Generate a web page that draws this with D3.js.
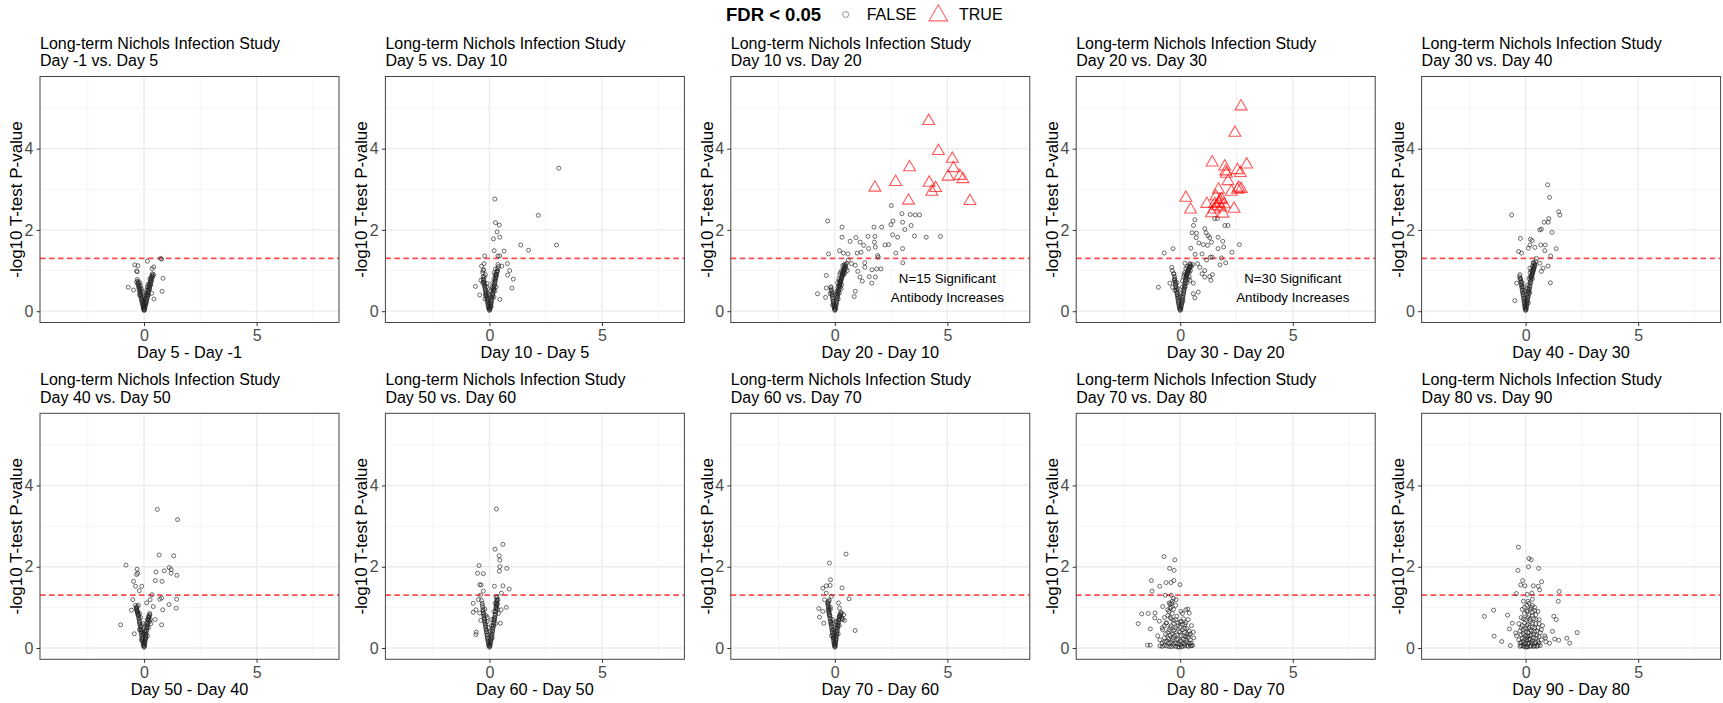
<!DOCTYPE html>
<html>
<head>
<meta charset="utf-8">
<script src="https://cdn.jsdelivr.net/npm/d3@7"></script>
<style>
body { margin: 0; background: #fff; }
svg { font-family: "Liberation Sans", Arial, sans-serif; }
</style>
</head>
<body>
<svg width="1723" height="703"></svg>
<script>
// **** data ****

var studyTitle = "Long-term Nichols Infection Study";
var comparisons = ["Day -1 vs. Day 5", "Day 5 vs. Day 10", "Day 10 vs. Day 20", "Day 20 vs. Day 30", "Day 30 vs. Day 40",
    "Day 40 vs. Day 50", "Day 50 vs. Day 60", "Day 60 vs. Day 70", "Day 70 vs. Day 80", "Day 80 vs. Day 90"];
var xLabels = ["Day 5 - Day -1", "Day 10 - Day 5", "Day 20 - Day 10", "Day 30 - Day 20", "Day 40 - Day 30",
    "Day 50 - Day 40", "Day 60 - Day 50", "Day 70 - Day 60", "Day 80 - Day 70", "Day 90 - Day 80"];
var yLabel = "-log10 T-test P-value";
var xTicks = [0, 5];
var yTicks = [0, 2, 4];
var xMinor = [-2.5, 2.5, 7.5];
var yMinor = [1, 3, 5];
var cutoff = 1.301;
var legendTitle = "FDR < 0.05";
var legendLabels = ["FALSE", "TRUE"];
// significant-count notes, [panel index, count]
var notes = [[2, 15], [3, 30]];
var noteX = 5, noteY = 0.7;

// FDR < 0.05 == FALSE, [mean difference, -log10 p]
var p1 = [[0.74,1.30],[0.78,1.28],[0.15,1.23],[-0.41,1.14],[-0.27,1.12],[-0.33,0.99],[-0.30,0.97],[0.36,1.05],[0.43,1.09],[0.84,0.81],
    [-0.70,0.59],[0.80,0.49],[0.44,0.30],[0.34,0.44],[-0.47,0.52],[-0.33,0.72],
    [0,0.02],[0.01,0.04],[-0.01,0.06],[0.02,0.09],[-0.03,0.11],[0.04,0.13],[-0.04,0.16],[0.05,0.18],[-0.06,0.2],[0.07,0.23],
    [-0.07,0.25],[0.09,0.27],[-0.09,0.3],[0.1,0.32],[-0.11,0.35],[0.12,0.37],[-0.13,0.4],[0.14,0.42],[-0.15,0.45],[0.16,0.47],
    [-0.17,0.5],[0.18,0.52],[-0.19,0.55],[0.2,0.57],[-0.21,0.6],[0.22,0.62],[-0.23,0.65],[0.24,0.67],[-0.25,0.7],[0.27,0.72],
    [-0.27,0.74],[0.29,0.76],[0.31,0.8],[0.33,0.84],[0.35,0.88],[0.37,0.92],[-0.3,0.78],[0.05,0.3],[-0.02,0.25],[0.1,0.45],
    [0,0.15],[-0.1,0.5],[0.15,0.6],[-0.15,0.62],[0.2,0.4],[-0.05,0.38],[0.12,0.52],[0.25,0.55],[-0.2,0.4],[0.3,0.65]];
var core1 = [[0.02,0.03],[-0.02,0.05],[0.03,0.07],[-0.04,0.1],[0.06,0.12],[-0.05,0.14],[0.08,0.17],[-0.08,0.19],[0.1,0.21],[-0.1,0.24],
    [0.12,0.26],[-0.12,0.29],[0.14,0.31],[-0.14,0.34],[0.16,0.36],[-0.16,0.39],[0.18,0.41],[-0.18,0.44],[0.2,0.46],[-0.2,0.49],
    [0.22,0.51],[-0.22,0.54],[0.24,0.56],[-0.24,0.59],[0.26,0.61],[-0.26,0.64],[0.28,0.66],[0.3,0.7],[0.32,0.74],[0.34,0.78],
    [0.36,0.83],[0.4,0.87],[0.42,0.9],[-0.28,0.68],[-0.12,0.55],[0.08,0.4],[0.18,0.66],[-0.18,0.7],[0.26,0.8],[0.05,0.22]];
var p2 = [[3.08,3.52],[0.24,2.76],[2.17,2.36],[2.98,1.63],[1.39,1.63],[1.74,1.50],[0.27,2.18],[0.44,2.12],[0.34,1.95],[0.18,1.78],
    [0.46,1.82],[0.21,1.49],[0.65,1.48],[-0.21,1.36],[0.38,1.36],[0.46,1.36],[-0.24,1.17],[-0.35,1.11],[-0.28,1.00],[0.80,1.17],
    [0.90,1.00],[0.81,0.89],[1.06,0.79],[1.00,0.57],[0.55,1.11],[-0.62,0.61],[-0.43,0.40],[0.46,0.29],[0.27,1.04],[-0.18,0.90],[-0.38,0.76],
    [0,0.02],[0.01,0.05],[-0.02,0.08],[0.03,0.1],[-0.04,0.13],[0.05,0.16],[-0.06,0.19],[0.07,0.22],[-0.08,0.25],[0.09,0.28],
    [-0.1,0.31],[0.11,0.34],[-0.12,0.37],[0.13,0.4],[-0.14,0.43],[0.15,0.46],[-0.16,0.49],[0.17,0.52],[-0.18,0.55],[0.19,0.58],
    [-0.2,0.61],[0.21,0.64],[-0.22,0.67],[0.23,0.7],[-0.24,0.73],[0.25,0.76],[-0.26,0.79],[0.27,0.82],[-0.28,0.85],[0.29,0.88],
    [0.31,0.92],[0.33,0.96],[0.35,1.0],[0.37,1.05],[0.4,1.1],[-0.3,0.95],[-0.25,1.02],[0.05,0.35],[-0.05,0.3],[0.1,0.55],
    [-0.12,0.6],[0.2,0.8],[0.15,0.7],[0,0.2],[-0.18,0.4],[0.25,0.5],[0.3,0.6],[0.08,0.12],[-0.08,0.45],[0.22,0.95]];
var core2 = [[0.02,0.04],[-0.03,0.06],[0.04,0.08],[-0.05,0.11],[0.06,0.14],[-0.07,0.17],[0.08,0.2],[-0.09,0.23],[0.1,0.26],[-0.11,0.29],
    [0.12,0.32],[-0.13,0.35],[0.14,0.38],[-0.15,0.41],[0.16,0.44],[-0.17,0.47],[0.18,0.5],[-0.19,0.53],[0.2,0.56],[-0.21,0.59],
    [0.22,0.62],[-0.23,0.65],[0.24,0.68],[-0.25,0.71],[0.26,0.74],[-0.27,0.77],[0.28,0.8],[0.3,0.85],[0.32,0.9],[0.36,0.98],
    [-0.2,0.3],[0.12,0.6],[-0.1,0.68],[0.2,0.35],[0.05,0.5],[-0.03,0.4],[0.25,0.9],[-0.22,0.85],[0.38,1.15],[-0.3,0.7]];
var p3 = [[-0.32,2.22],[0.32,2.07],[2.51,2.60],[2.98,2.40],[3.35,2.38],[3.57,2.37],[3.76,2.37],[2.58,2.22],[2.49,2.13],[3.01,2.19],
    [1.74,2.07],[2.08,2.07],[3.39,2.11],[3.11,2.01],[2.57,1.88],[2.79,1.82],[3.54,1.85],[4.06,1.82],[4.69,1.84],[0.32,1.82],
    [0.94,1.81],[0.68,1.72],[1.12,1.70],[1.47,1.84],[1.78,1.84],[1.76,1.70],[2.23,1.63],[2.39,1.64],[3.01,1.54],[1.50,1.54],
    [1.80,1.58],[2.71,1.43],[3.02,1.19],[-0.28,1.41],[0.21,1.49],[0.38,1.43],[0.58,1.41],[0.99,1.43],[1.28,1.62],[1.17,1.45],
    [1.90,1.37],[1.93,1.33],[2.05,1.04],[1.86,1.04],[1.65,1.02],[1.33,1.19],[1.33,1.08],[1.53,0.85],[1.80,0.84],[1.64,0.69],
    [1.12,0.84],[1.02,0.98],[0.91,1.13],[0.60,1.26],[0.74,1.17],[1.22,0.74],[0.91,0.49],[0.86,0.36],[-0.38,0.88],[-0.77,0.43],
    [-0.38,0.57],[-0.21,0.43],[-0.41,0.34],
    [0,0.02],[0.01,0.05],[-0.02,0.08],[0.03,0.11],[-0.03,0.14],[0.05,0.17],[-0.05,0.2],[0.07,0.23],[-0.07,0.26],[0.09,0.3],
    [-0.09,0.33],[0.11,0.36],[-0.11,0.4],[0.13,0.43],[-0.13,0.46],[0.15,0.5],[-0.15,0.53],[0.17,0.56],[-0.17,0.6],[0.19,0.63],
    [0.21,0.67],[0.23,0.7],[0.25,0.74],[0.27,0.78],[0.29,0.82],[0.31,0.86],[0.33,0.9],[0.35,0.94],[0.37,0.98],[0.39,1.02],
    [0.41,1.06],[0.44,1.1],[0.47,1.15],[0.3,1.0],[0.22,0.9],[0.25,0.6],[0.1,0.5],[0.05,0.4],[0.18,0.8],[0.35,1.12],
    [0.12,0.7],[0.4,0.9],[0.15,0.3],[-0.1,0.15],[0.2,0.45],[0.5,1.05],[0.28,0.55],[0.45,0.95]];
var core3 = [[0.02,0.04],[-0.02,0.06],[0.04,0.09],[-0.04,0.12],[0.06,0.15],[-0.06,0.18],[0.08,0.21],[-0.08,0.24],[0.1,0.27],[-0.1,0.31],
    [0.12,0.34],[-0.12,0.38],[0.14,0.41],[-0.14,0.44],[0.16,0.48],[-0.16,0.51],[0.18,0.54],[0.2,0.6],[0.22,0.65],[0.24,0.68],
    [0.26,0.72],[0.28,0.76],[0.3,0.8],[0.32,0.84],[0.34,0.88],[0.36,0.92],[0.38,0.96],[0.4,1.0],[0.42,1.04],[0.45,1.08],
    [0.48,1.12],[0.52,1.18],[-0.18,0.58],[0.08,0.45],[0.14,0.6],[0.3,0.65],[0.2,0.75],[0.42,1.15],[0.55,1.0],[0.25,0.95]];
var p4 = [[-0.97,0.59],[-0.71,1.43],[-0.32,1.54],[0.65,2.25],[0.59,2.11],[0.53,1.93],[0.72,1.92],[0.71,1.81],[1.09,2.03],[1.15,1.93],
    [1.24,1.86],[1.31,1.81],[1.39,1.70],[1.21,1.62],[1.03,1.64],[0.83,1.68],[0.47,1.55],[0.66,1.40],[0.97,1.41],[1.68,1.82],
    [1.89,1.72],[1.93,1.58],[1.68,1.54],[2.30,1.45],[2.63,1.64],[1.53,2.28],[1.65,2.28],[1.98,2.11],[2.12,2.11],[1.42,1.33],
    [1.83,1.31],[2.02,1.19],[1.77,1.14],[1.34,1.33],[1.17,1.26],[1.43,0.90],[1.31,0.85],[1.36,0.76],[1.09,1.00],[0.80,0.47],
    [0.58,0.43],[0.65,0.33],[0.21,1.18],[0.43,1.17],[0.77,1.17],[0.87,1.08],[0.97,0.92],[1.09,0.84],[0.28,0.88],[0.43,0.76],
    [0.58,0.69],[-0.38,1.08],[-0.35,1.00],[-0.29,0.92],[-0.46,0.69],[-0.34,0.59],[-0.24,0.51],[-0.27,0.76],
    [0,0.02],[0.01,0.05],[-0.02,0.08],[0.03,0.11],[-0.04,0.14],[0.05,0.17],[-0.06,0.2],[0.07,0.23],[-0.08,0.26],[0.09,0.3],
    [-0.1,0.33],[0.11,0.36],[-0.12,0.4],[0.13,0.43],[-0.14,0.46],[0.15,0.5],[-0.16,0.53],[0.17,0.56],[-0.18,0.6],[0.19,0.63],
    [-0.2,0.66],[0.21,0.7],[-0.22,0.73],[0.23,0.76],[-0.24,0.8],[0.25,0.83],[-0.26,0.86],[0.28,0.9],[0.3,0.94],[0.32,0.98],
    [0.35,1.02],[0.38,1.06],[0.41,1.1],[0.44,1.15],[0.2,0.95],[0.1,0.6],[0.05,0.45],[0.3,0.7],[-0.1,0.55],[0.15,0.85],
    [0.25,1.05],[0.35,0.8],[0.4,0.95],[0.12,0.25],[-0.05,0.35],[0.45,1.0],[0.5,1.1],[0.22,0.6]];
var core4 = [[0.02,0.04],[-0.03,0.06],[0.04,0.09],[-0.05,0.12],[0.06,0.15],[-0.07,0.18],[0.08,0.21],[-0.09,0.24],[0.1,0.28],[-0.11,0.31],
    [0.12,0.34],[-0.13,0.38],[0.14,0.41],[-0.15,0.44],[0.16,0.48],[-0.17,0.51],[0.18,0.54],[-0.19,0.58],[0.2,0.61],[-0.21,0.64],
    [0.22,0.68],[-0.23,0.71],[0.24,0.74],[-0.25,0.78],[0.26,0.81],[0.27,0.85],[0.29,0.88],[0.31,0.92],[0.34,0.96],[0.37,1.0],
    [0.4,1.04],[0.43,1.08],[0.46,1.12],[-0.28,0.92],[0.1,0.75],[0.3,1.1],[0.18,0.9],[0.4,0.85],[-0.15,0.7],[0.55,1.15]];
var p5 = [[0.98,3.11],[1.06,2.80],[-0.62,2.37],[1.47,2.45],[1.52,2.37],[1.03,2.28],[1.00,2.19],[0.82,2.19],[1.17,1.94],[0.63,2.00],
    [0.70,2.02],[0.21,1.77],[0.29,1.74],[0.41,1.57],[0.19,1.63],[0.67,1.63],[0.87,1.63],[0.85,1.49],[1.36,1.54],[0.12,1.55],
    [-0.23,1.79],[-0.31,1.47],[-0.18,1.43],[1.11,1.36],[1.00,1.11],[0.70,0.98],[1.10,0.70],[-0.48,0.26],[-0.40,0.69],[-0.25,0.81],
    [0.48,1.30],[0.63,1.18],[0.78,1.06],[0.34,1.18],[0.19,1.06],
    [0,0.02],[0.01,0.05],[-0.02,0.08],[0.03,0.11],[-0.03,0.14],[0.04,0.17],[-0.05,0.2],[0.06,0.23],[-0.06,0.26],[0.08,0.3],
    [-0.08,0.33],[0.1,0.36],[-0.1,0.4],[0.12,0.43],[-0.12,0.46],[0.14,0.5],[-0.14,0.53],[0.16,0.56],[-0.16,0.6],[0.18,0.63],
    [-0.18,0.66],[0.2,0.7],[-0.2,0.73],[0.22,0.76],[-0.22,0.8],[0.24,0.83],[0.26,0.87],[0.28,0.91],[0.3,0.95],[0.32,0.99],
    [0.34,1.03],[0.36,1.07],[0.38,1.12],[0.4,1.17],[0.05,0.4],[-0.05,0.5],[0.1,0.65],[0.15,0.8],[0.2,0.95],[0.25,1.0],
    [-0.15,0.7],[0.12,0.2],[0.3,0.8],[0,0.3],[0.08,0.55],[-0.25,0.9],[0.35,1.2],[0.18,0.45]];
var core5 = [[0.02,0.04],[-0.02,0.06],[0.03,0.09],[-0.04,0.12],[0.05,0.15],[-0.05,0.18],[0.07,0.21],[-0.07,0.24],[0.09,0.28],[-0.09,0.31],
    [0.11,0.34],[-0.11,0.38],[0.13,0.41],[-0.13,0.44],[0.15,0.48],[-0.15,0.51],[0.17,0.54],[-0.17,0.58],[0.19,0.61],[-0.19,0.64],
    [0.21,0.68],[-0.21,0.71],[0.23,0.74],[-0.23,0.78],[0.25,0.81],[0.27,0.85],[0.29,0.89],[0.31,0.93],[0.33,0.97],[0.35,1.01],
    [0.37,1.05],[0.39,1.1],[0.42,1.14],[-0.27,0.85],[0.1,0.5],[0.2,0.85],[-0.1,0.6],[0.3,1.1],[0.45,1.22],[0.05,0.25]];
var p6 = [[0.59,3.41],[1.49,3.16],[0.67,2.29],[1.32,2.27],[-0.80,2.04],[-0.31,1.94],[-0.28,1.84],[-0.33,1.81],[1.12,1.98],[1.21,1.93],
    [0.90,1.90],[1.46,1.79],[0.53,1.87],[-0.47,1.64],[-0.38,1.52],[0.50,1.66],[0.80,1.64],[1.20,1.84],[-0.21,1.41],[-0.50,1.19],
    [0.36,1.31],[0.27,1.19],[0.70,1.20],[0.78,1.23],[1.11,1.07],[0.83,0.94],[1.45,1.20],[1.43,0.98],[0.78,0.57],[0.49,0.70],
    [-1.04,0.57],[-0.43,0.35],[-0.56,0.93],[-0.10,1.52],[0.12,1.11],[0.41,1.02],
    [0,0.02],[0.01,0.05],[-0.02,0.08],[0.02,0.11],[-0.04,0.14],[0.04,0.17],[-0.06,0.2],[0.05,0.23],[-0.08,0.26],[0.07,0.3],
    [-0.1,0.33],[0.08,0.36],[-0.12,0.4],[0.1,0.43],[-0.14,0.46],[0.12,0.5],[-0.16,0.53],[0.14,0.56],[-0.18,0.6],[0.16,0.63],
    [-0.2,0.66],[0.18,0.7],[-0.22,0.73],[0.2,0.76],[-0.24,0.8],[0.22,0.8],[-0.26,0.84],[0.25,0.85],[-0.28,0.88],[-0.3,0.92],
    [-0.32,0.96],[-0.34,1.0],[0.05,0.4],[-0.05,0.35],[0.1,0.6],[-0.1,0.55],[0.15,0.3],[-0.15,0.75],[0,0.15],[0.2,0.5],
    [-0.2,0.45],[0.28,0.7],[0.3,0.6],[-0.25,1.05],[0.08,0.25],[-0.12,0.2]];
var core6 = [[0.02,0.04],[-0.03,0.06],[0.03,0.09],[-0.05,0.12],[0.05,0.15],[-0.07,0.18],[0.06,0.21],[-0.09,0.24],[0.08,0.28],[-0.11,0.31],
    [0.09,0.34],[-0.13,0.38],[0.11,0.41],[-0.15,0.44],[0.13,0.48],[-0.17,0.51],[0.15,0.54],[-0.19,0.58],[0.17,0.61],[-0.21,0.64],
    [0.19,0.68],[-0.23,0.71],[0.21,0.74],[-0.25,0.78],[0.23,0.77],[-0.27,0.82],[-0.29,0.86],[-0.31,0.9],[-0.33,0.94],[-0.35,0.98],
    [-0.3,1.02],[0.26,0.82],[-0.1,0.45],[0.1,0.5],[0,0.35],[-0.2,0.85],[0.25,0.65],[-0.05,0.6],[0.15,0.7],[-0.38,1.05]];
var p7 = [[0.31,3.42],[0.60,2.55],[0.25,2.43],[0.43,2.27],[0.46,2.16],[0.46,2.00],[0.44,1.89],[0.77,1.96],[-0.46,2.03],[-0.53,1.84],
    [-0.27,1.83],[-0.43,1.56],[-0.37,1.55],[-0.27,1.40],[-0.40,1.30],[-0.49,1.19],[-0.35,1.17],[-0.72,1.10],[-0.72,0.88],[-0.60,0.94],
    [-0.43,0.86],[-0.38,0.68],[-0.60,0.33],[-0.58,0.39],[0.22,1.52],[0.60,1.53],[0.88,1.45],[0.75,1.00],[0.53,1.35],[0.38,1.19],
    [0.52,0.94],[0.49,0.61],
    [0,0.02],[0.01,0.05],[-0.02,0.08],[0.03,0.11],[-0.04,0.14],[0.05,0.17],[-0.06,0.2],[0.07,0.23],[-0.08,0.26],[0.09,0.3],
    [-0.1,0.33],[0.11,0.36],[-0.12,0.4],[0.13,0.43],[-0.14,0.46],[0.15,0.5],[-0.16,0.53],[0.17,0.56],[-0.18,0.6],[0.19,0.63],
    [-0.2,0.66],[0.21,0.7],[-0.22,0.73],[0.23,0.76],[-0.24,0.8],[0.25,0.83],[-0.26,0.86],[0.27,0.9],[-0.28,0.94],[0.29,0.98],
    [0.3,1.02],[0.31,1.08],[0.32,1.14],[0.33,1.2],[0.34,1.26],[-0.3,1.0],[-0.32,1.1],[0.05,0.4],[-0.05,0.5],[0.1,0.7],
    [0.2,0.9],[0.25,1.1],[-0.15,0.8],[0.35,0.95],[0.4,0.85],[0.12,0.25],[-0.1,0.65],[0.28,0.6]];
var core7 = [[0.02,0.04],[-0.03,0.06],[0.04,0.09],[-0.05,0.12],[0.06,0.15],[-0.07,0.18],[0.08,0.21],[-0.09,0.24],[0.1,0.28],[-0.11,0.31],
    [0.12,0.34],[-0.13,0.38],[0.14,0.41],[-0.15,0.44],[0.16,0.48],[-0.17,0.51],[0.18,0.54],[-0.19,0.58],[0.2,0.61],[-0.21,0.64],
    [0.22,0.68],[-0.23,0.71],[0.24,0.74],[-0.25,0.78],[0.26,0.81],[-0.27,0.85],[0.28,0.88],[-0.29,0.92],[0.3,0.96],[0.31,1.0],
    [0.32,1.05],[0.33,1.1],[0.34,1.16],[-0.31,1.05],[0.1,0.55],[-0.1,0.75],[0.2,0.7],[0.3,1.25],[-0.2,0.95],[0.36,1.08]];
var p8 = [[0.50,2.31],[-0.24,2.09],[-0.19,1.68],[-0.21,1.54],[-0.38,1.53],[-0.53,1.47],[0.32,1.48],[-0.71,0.97],[-0.68,0.76],[0.90,0.43],
    [0.63,1.21],[0.16,1.11],[0.21,0.98],[0.40,0.82],[0.43,0.68],[-0.38,1.35],[-0.46,1.19],[-0.31,1.11],[-0.53,0.90],[-0.49,0.61],[-0.16,1.27],
    [0,0.02],[0.01,0.05],[-0.02,0.08],[0.02,0.11],[-0.03,0.14],[0.04,0.17],[-0.05,0.2],[0.05,0.23],[-0.06,0.26],[0.07,0.3],
    [-0.08,0.33],[0.08,0.36],[-0.1,0.4],[0.1,0.43],[-0.12,0.46],[0.11,0.5],[-0.14,0.53],[0.13,0.56],[-0.16,0.6],[0.15,0.63],
    [-0.18,0.66],[0.17,0.7],[-0.2,0.73],[0.19,0.76],[-0.22,0.8],[0.21,0.8],[-0.24,0.85],[0.24,0.84],[-0.26,0.9],[0.27,0.88],
    [-0.27,0.95],[-0.28,1.0],[-0.3,1.05],[-0.3,1.12],[-0.25,1.18],[0,0.3],[0.05,0.5],[-0.05,0.45],[0.1,0.65],[-0.1,0.7],
    [0.15,0.35],[-0.15,0.3],[0.3,0.75],[0.35,0.7],[-0.2,0.95],[0.2,0.55]];
var core8 = [[0.02,0.04],[-0.02,0.06],[0.03,0.09],[-0.04,0.12],[0.04,0.15],[-0.05,0.18],[0.06,0.21],[-0.07,0.24],[0.07,0.28],[-0.09,0.31],
    [0.09,0.34],[-0.11,0.38],[0.1,0.41],[-0.13,0.44],[0.12,0.48],[-0.15,0.51],[0.14,0.54],[-0.17,0.58],[0.16,0.61],[-0.19,0.64],
    [0.18,0.68],[-0.21,0.71],[0.2,0.74],[-0.23,0.78],[0.22,0.77],[-0.25,0.82],[0.25,0.8],[-0.27,0.88],[-0.28,0.93],[-0.29,0.98],
    [-0.31,1.08],[-0.27,1.15],[0,0.4],[0.1,0.55],[-0.1,0.6],[0.3,0.85],[-0.2,1.0],[0.05,0.65],[-0.05,0.25],[0.32,0.72]];
var p9 = [[-0.72,2.25],[-0.24,2.17],[-0.47,1.96],[-0.27,1.91],[-1.28,1.66],[-0.63,1.61],[-0.41,1.61],[-0.28,1.66],[-0.01,1.56],[-0.91,1.52],
    [-1.25,1.40],[-0.66,1.30],[-0.40,1.30],[-1.71,0.84],[-1.42,0.85],[-1.12,0.86],[-1.13,0.74],[-1.87,0.60],[-1.33,0.47],[-1.45,0.07],
    [-1.33,0.07],[-0.78,0.45],[0.25,0.94],[0.40,0.86],[0.58,0.39],[0.49,0.12],[0.55,0.06],[0.34,0.96],[0.03,0.90],[-0.19,1.19],
    [-0.49,1.11],[-0.78,1.02],[-0.56,0.94],[-0.93,0.66],[-0.63,0.61],
    [-0.05,0.02],[0.05,0.03],[-0.2,0.04],[0.2,0.05],[-0.4,0.03],[0.35,0.04],[-0.6,0.05],[0.5,0.06],[-0.8,0.04],[-0.1,0.1],
    [0.1,0.12],[-0.3,0.1],[0.3,0.15],[-0.5,0.12],[-0.7,0.15],[0.45,0.2],[0,0.18],[-0.15,0.2],[0.15,0.22],[-0.35,0.2],
    [-0.55,0.25],[0.25,0.28],[-0.9,0.2],[0.05,0.3],[-0.25,0.3],[-0.45,0.32],[0.4,0.32],[-0.65,0.35],[0.2,0.38],[-0.05,0.4],
    [-0.3,0.42],[0.1,0.45],[-0.5,0.45],[0.3,0.48],[-0.2,0.5],[0,0.52],[-0.8,0.5],[0.5,0.55],[-0.4,0.55],[0.2,0.58],
    [-0.1,0.62],[-0.6,0.62],[0.05,0.65],[-0.3,0.68],[0.35,0.7],[-0.45,0.75],[-0.15,0.78],[0.15,0.72],[-0.35,0.85],[-0.5,0.9],
    [-0.4,1.0],[-0.45,1.08],[-0.35,1.15],[-0.3,1.22],[-0.2,1.05],[0.1,0.85],[-0.7,0.75],[0.6,0.25]];
var core9 = [[-0.1,0.03],[0.1,0.04],[-0.3,0.05],[0.3,0.06],[-0.5,0.04],[0.45,0.05],[-0.7,0.06],[-0.9,0.05],[0,0.08],[-0.2,0.12],
    [0.2,0.1],[-0.4,0.14],[0.4,0.12],[-0.6,0.16],[-0.8,0.12],[0.05,0.16],[-0.1,0.22],[0.25,0.2],[-0.3,0.25],[-0.5,0.22],
    [0.35,0.26],[-0.7,0.25],[0.15,0.3],[-0.15,0.32],[-0.35,0.35],[0.3,0.35],[-0.55,0.38],[0,0.4],[-0.25,0.45],[0.2,0.48],
    [-0.45,0.5],[0.4,0.42],[-0.1,0.55],[0.1,0.58],[-0.3,0.6],[-0.7,0.55],[0,0.65],[-0.2,0.7],[-0.4,0.72],[0.25,0.62],
    [-0.55,0.8],[-0.3,0.95],[-0.45,0.98],[-0.38,1.1],[0.45,0.35],[-1.0,0.3]];
var p10 = [[-0.32,2.48],[0.15,2.20],[0.25,2.17],[0.13,2.00],[0.58,1.96],[-0.34,1.91],[-0.13,1.66],[0.71,1.63],[-0.22,1.55],[-0.03,1.53],
    [0.34,1.53],[0.56,1.52],[0.62,1.43],[1.49,1.39],[-0.41,1.34],[0.28,1.35],[0.07,1.32],[1.45,1.15],[-1.83,0.78],[-1.42,0.93],
    [-0.80,0.81],[-0.72,0.47],[-1.40,0.29],[-1.06,0.16],[-0.68,0.06],[1.36,0.70],[1.25,0.78],[1.19,0.41],[1.29,0.22],[1.47,0.19],
    [1.83,0.24],[1.96,0.12],[2.29,0.38],[1.06,0.12],[0.88,0.25],[-0.44,0.37],[-0.59,0.61],
    [0,0.02],[0.1,0.03],[-0.1,0.04],[0.25,0.05],[-0.25,0.04],[0.4,0.05],[0.55,0.06],[-0.05,0.1],[0.15,0.12],[0.3,0.1],
    [-0.2,0.14],[0.45,0.15],[0.6,0.12],[0.05,0.2],[0.2,0.22],[-0.15,0.24],[0.35,0.25],[0.7,0.2],[-0.3,0.2],[0,0.3],
    [0.25,0.32],[0.5,0.3],[-0.1,0.35],[0.1,0.38],[0.4,0.4],[0.65,0.38],[-0.25,0.42],[0.2,0.45],[0,0.48],[0.55,0.5],
    [0.3,0.52],[-0.15,0.55],[0.1,0.58],[0.45,0.6],[0.75,0.55],[-0.3,0.6],[0.2,0.65],[0,0.7],[0.35,0.72],[0.6,0.7],
    [-0.2,0.75],[0.15,0.8],[0.45,0.82],[-0.05,0.85],[0.3,0.88],[0.1,0.92],[0.55,0.9],[-0.15,0.95],[0.25,1.0],[0.05,1.05],
    [0.4,1.0],[0.15,1.1],[-0.1,1.15],[0.3,1.2],[0.85,0.3],[0.9,0.15],[-0.4,0.3],[0.7,0.45]];
var core10 = [[0.05,0.03],[0.2,0.04],[-0.05,0.05],[0.35,0.04],[-0.2,0.06],[0.5,0.04],[0.65,0.06],[0,0.12],[0.1,0.1],[0.25,0.14],
    [-0.1,0.16],[0.4,0.12],[0.55,0.16],[-0.25,0.12],[0.15,0.2],[0.3,0.18],[0.05,0.25],[-0.05,0.22],[0.45,0.24],[0.6,0.28],
    [0.2,0.3],[-0.2,0.32],[0.35,0.34],[0.1,0.3],[0,0.4],[0.25,0.42],[0.5,0.42],[-0.1,0.45],[0.15,0.5],[0.4,0.5],
    [-0.2,0.5],[0.05,0.55],[0.3,0.6],[0.6,0.6],[-0.05,0.62],[0.2,0.7],[0.45,0.7],[0.1,0.75],[-0.1,0.72],[0.3,0.8],
    [0.05,0.9],[0.4,0.92],[0.2,0.95],[-0.05,1.0],[0.3,1.05],[0.1,1.15]];

// FDR < 0.05 == TRUE
var t3 = [[4.17,4.68],[4.60,3.94],[5.22,3.75],[3.32,3.54],[5.27,3.52],[2.70,3.18],[4.19,3.16],[5.03,3.31],[5.55,3.33],[5.69,3.25],
    [1.78,3.04],[4.48,3.03],[4.31,2.94],[3.27,2.72],[6.00,2.71]];
var t4 = [[2.70,5.04],[2.43,4.39],[1.42,3.66],[1.98,3.56],[2.95,3.61],[2.54,3.47],[2.02,3.44],[2.67,3.40],[2.12,3.20],[1.70,2.99],
    [2.27,2.94],[2.60,3.04],[2.55,2.99],[0.25,2.79],[1.58,2.82],[1.84,2.75],[1.18,2.64],[1.71,2.66],[1.95,2.63],[0.46,2.50],
    [2.39,2.52],[1.50,2.50],[1.80,2.55],[1.90,2.40],[1.39,2.41],[1.65,2.58],[2.05,3.38],[2.71,3.01],[1.76,2.73],[1.53,2.64]];

var notSig = [p1.concat(core1), p2.concat(core2), p3.concat(core3), p4.concat(core4), p5.concat(core5),
    p6.concat(core6), p7.concat(core7), p8.concat(core8), p9.concat(core9), p10.concat(core10)];
var sig = [[], [], t3, t4, [], [], [], [], [], []];

// **** layout ****

var svg = d3.select("svg");
var panelW = 299, panelH = 246;
var colStep = 345.4;
var rowTop = [76.5, 413.3];

var xScale = d3.scaleLinear().domain([-4.62, 8.66]).range([0, panelW]);
var yScale = d3.scaleLinear().domain([-0.278, 5.776]).range([panelH, 0]);

var tri = d3.symbol().type(d3.symbolTriangle).size(62);

comparisons.forEach(function (comp, i) {
    var left = 40 + (i % 5) * colStep;
    var top = rowTop[Math.floor(i / 5)];
    var g = svg.append("g").attr("transform", "translate(" + left + "," + top + ")");

    // titles
    g.append("text").attr("x", 0).attr("y", -28).style("font-size", "16px").text(studyTitle);
    g.append("text").attr("x", 0).attr("y", -10.5).style("font-size", "16px").text(comp);

    // grid
    g.selectAll(".xminor").data(xMinor).enter().append("line")
        .attr("x1", xScale).attr("x2", xScale).attr("y1", 0).attr("y2", panelH)
        .attr("stroke", "#F2F2F2").attr("stroke-width", 0.8);
    g.selectAll(".yminor").data(yMinor).enter().append("line")
        .attr("y1", yScale).attr("y2", yScale).attr("x1", 0).attr("x2", panelW)
        .attr("stroke", "#F2F2F2").attr("stroke-width", 0.8);
    g.selectAll(".xmajor").data(xTicks).enter().append("line")
        .attr("x1", xScale).attr("x2", xScale).attr("y1", 0).attr("y2", panelH)
        .attr("stroke", "#EBEBEB").attr("stroke-width", 1.3);
    g.selectAll(".ymajor").data(yTicks).enter().append("line")
        .attr("y1", yScale).attr("y2", yScale).attr("x1", 0).attr("x2", panelW)
        .attr("stroke", "#EBEBEB").attr("stroke-width", 1.3);

    // cutoff line
    g.append("line").attr("x1", 0).attr("x2", panelW)
        .attr("y1", yScale(cutoff)).attr("y2", yScale(cutoff))
        .attr("stroke", "#FF0000").attr("stroke-opacity", 0.7)
        .attr("stroke-width", 1.8).attr("stroke-dasharray", "5.5,3.5");

    // points
    g.selectAll(".pt").data(notSig[i]).enter().append("circle")
        .attr("cx", function (d) { return xScale(d[0]); })
        .attr("cy", function (d) { return yScale(d[1]); })
        .attr("r", 2)
        .attr("fill", "none").attr("stroke", "#222").attr("stroke-opacity", 0.65).attr("stroke-width", 1);
    g.selectAll(".sig").data(sig[i]).enter().append("path")
        .attr("d", tri)
        .attr("transform", function (d) { return "translate(" + xScale(d[0]) + "," + yScale(d[1]) + ")"; })
        .attr("fill", "none").attr("stroke", "#FF0000").attr("stroke-opacity", 0.65).attr("stroke-width", 1.1);

    // border
    g.append("rect").attr("width", panelW).attr("height", panelH)
        .attr("fill", "none").attr("stroke", "#444").attr("stroke-width", 1);

    // axes
    var xa = g.append("g").attr("transform", "translate(0," + panelH + ")")
        .call(d3.axisBottom(xScale).tickValues(xTicks).tickFormat(d3.format("d")).tickSize(3.5).tickPadding(4));
    var ya = g.append("g")
        .call(d3.axisLeft(yScale).tickValues(yTicks).tickFormat(d3.format("d")).tickSize(3.5).tickPadding(3.2));
    [xa, ya].forEach(function (a) {
        a.select(".domain").remove();
        a.selectAll("line").attr("stroke", "#333");
        a.selectAll("text").attr("fill", "#4D4D4D").style("font-size", "16px")
            .style("font-family", '"Liberation Sans", Arial, sans-serif');
    });

    // axis titles
    g.append("text").attr("x", panelW / 2).attr("y", panelH + 35.5)
        .attr("text-anchor", "middle").style("font-size", "16.3px").text(xLabels[i]);
    g.append("text").attr("transform", "translate(-18," + panelH / 2 + ") rotate(-90)")
        .attr("text-anchor", "middle").style("font-size", "17px").text(yLabel);
});

// significance notes
notes.forEach(function (n) {
    var i = n[0];
    var left = 40 + (i % 5) * colStep;
    var top = rowTop[Math.floor(i / 5)];
    var t = svg.append("text").attr("text-anchor", "middle").style("font-size", "13.3px");
    t.append("tspan").attr("x", left + xScale(noteX)).attr("y", top + yScale(noteY)).text("N=" + n[1] + " Significant");
    t.append("tspan").attr("x", left + xScale(noteX)).attr("dy", 19).text("Antibody Increases");
});

// legend
var legend = svg.append("g");
legend.append("text").attr("x", 726).attr("y", 20.5).style("font-size", "18.5px").style("font-weight", "bold").text(legendTitle);
legend.append("circle").attr("cx", 845.7).attr("cy", 14.5).attr("r", 3)
    .attr("fill", "none").attr("stroke", "#222").attr("stroke-opacity", 0.55).attr("stroke-width", 0.9);
legend.append("text").attr("x", 866.7).attr("y", 20.3).style("font-size", "16px").text(legendLabels[0]);
legend.append("path").attr("d", d3.symbol().type(d3.symbolTriangle).size(150))
    .attr("transform", "translate(938.3,15.5)")
    .attr("fill", "none").attr("stroke", "#FF0000").attr("stroke-opacity", 0.6).attr("stroke-width", 1.1);
legend.append("text").attr("x", 959).attr("y", 20.3).style("font-size", "16px").text(legendLabels[1]);
</script>
</body>
</html>
